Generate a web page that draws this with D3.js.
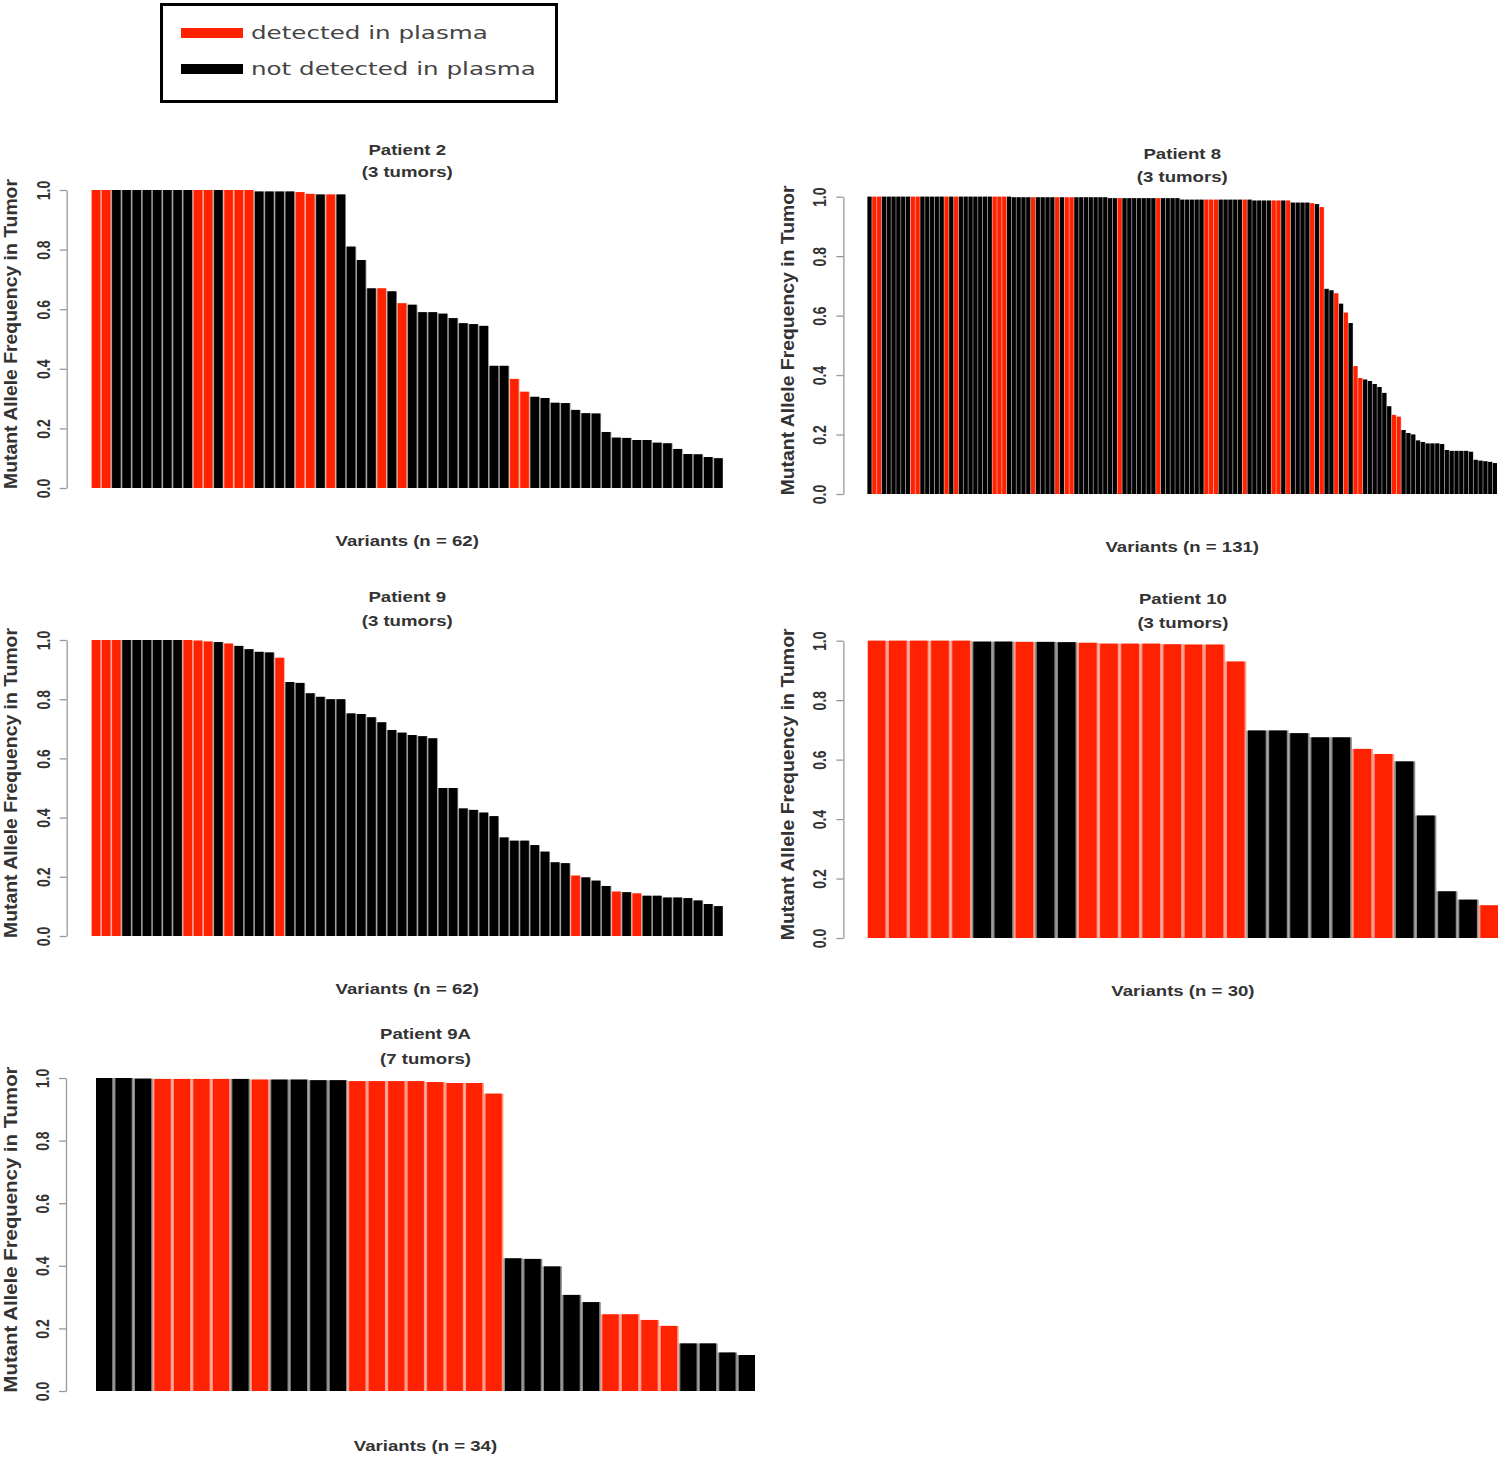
<!DOCTYPE html>
<html lang="en">
<head>
    <meta charset="UTF-8">
    <title>Mutant allele frequency in tumor by plasma detection</title>
    <script src="https://d3js.org/d3.v7.min.js"></script>
    <style>
        body {
            margin: 0;
            background: #fff;
        }
        svg {
            display: block;
        }
        .lbl {
            font-family: 'Liberation Sans', Arial, sans-serif;
            font-weight: bold;
            fill: #333;
        }
        .legend-text {
            font-family: 'DejaVu Sans', Verdana, sans-serif;
            font-size: 18.5px;
            fill: #444;
        }
    </style>
</head>
<body>
    <svg id="chart" width="1500" height="1461"></svg>

    <script>
        // mutant allele frequency per variant, sorted, and the variants (1-based) detected in plasma
        const p2Freq = [1, 1, 1, 1, 1, 1, 1, 1, 1, 1, 1, 1, 1, 1, 1, 1, 0.995, 0.995, 0.995, 0.995,
            0.993, 0.987, 0.985, 0.985, 0.985, 0.81, 0.765, 0.67, 0.67, 0.66, 0.62, 0.615, 0.59, 0.59,
            0.585, 0.57, 0.553, 0.55, 0.544, 0.41, 0.41, 0.366, 0.323, 0.306, 0.302, 0.286, 0.285, 0.262,
            0.251, 0.25, 0.188, 0.169, 0.168, 0.161, 0.161, 0.152, 0.15, 0.131, 0.114, 0.113, 0.104, 0.1];
        const p2Detected = [1, 2, 11, 12, 14, 15, 16, 21, 22, 24, 29, 31, 42, 43];

        const p8Freq = [1, 1, 1, 1, 1, 1, 1, 1, 1, 1,
            1, 1, 1, 1, 1, 1, 1, 1, 1, 1,
            1, 1, 1, 1, 1, 1, 1, 1, 1, 1,
            0.998, 0.998, 0.998, 0.998, 0.998, 0.998, 0.998, 0.998, 0.998, 0.998,
            0.998, 0.998, 0.998, 0.998, 0.998, 0.998, 0.998, 0.998, 0.998, 0.998,
            0.995, 0.995, 0.995, 0.995, 0.995, 0.995, 0.995, 0.995, 0.995, 0.995,
            0.995, 0.995, 0.995, 0.995, 0.995, 0.99, 0.99, 0.99, 0.99, 0.99,
            0.99, 0.99, 0.99, 0.99, 0.99, 0.99, 0.99, 0.99, 0.99, 0.99,
            0.987, 0.987, 0.987, 0.987, 0.987, 0.987, 0.987, 0.987, 0.98, 0.98,
            0.98, 0.98, 0.978, 0.975, 0.965, 0.69, 0.685, 0.675, 0.64, 0.61,
            0.575, 0.43, 0.39, 0.385, 0.38, 0.37, 0.36, 0.34, 0.295, 0.266,
            0.26, 0.215, 0.205, 0.2, 0.18, 0.175, 0.17, 0.17, 0.17, 0.168,
            0.148, 0.145, 0.145, 0.145, 0.145, 0.142, 0.115, 0.112, 0.11, 0.108,
            0.104];
        const p8Detected = [2, 3, 10, 11, 17, 19, 27, 28, 29, 35, 40, 42, 43, 53, 61, 71, 72, 73,
            79, 85, 86, 88, 93, 95, 98, 100, 102, 103, 110, 111];

        const p9Freq = [1, 1, 1, 1, 1, 1, 1, 1, 1, 1, 0.998, 0.995, 0.993, 0.988, 0.98, 0.969, 0.96,
            0.958, 0.94, 0.858, 0.855, 0.82, 0.808, 0.8, 0.8, 0.752, 0.75, 0.739, 0.722, 0.696, 0.687,
            0.679, 0.675, 0.668, 0.5, 0.5, 0.431, 0.426, 0.417, 0.405, 0.333, 0.322, 0.322, 0.307, 0.285,
            0.249, 0.246, 0.204, 0.198, 0.187, 0.169, 0.15, 0.148, 0.144, 0.136, 0.136, 0.13, 0.13,
            0.128, 0.12, 0.108, 0.101];
        const p9Detected = [1, 2, 3, 10, 11, 12, 14, 19, 48, 52, 54];

        const p10Freq = [1, 1, 1, 1, 1, 0.997, 0.997, 0.996, 0.996, 0.995, 0.993, 0.99, 0.99, 0.99,
            0.988, 0.987, 0.987, 0.93, 0.698, 0.698, 0.689, 0.675, 0.675, 0.636, 0.619, 0.594, 0.412,
            0.157, 0.129, 0.11];
        const p10Detected = [1, 2, 3, 4, 5, 8, 11, 12, 13, 14, 15, 16, 17, 18, 24, 25, 30];

        const p9aFreq = [1, 1, 0.998, 0.997, 0.997, 0.997, 0.997, 0.997, 0.995, 0.995, 0.995, 0.993,
            0.993, 0.99, 0.99, 0.99, 0.99, 0.987, 0.984, 0.984, 0.95, 0.424, 0.422, 0.398, 0.307, 0.284,
            0.245, 0.245, 0.227, 0.208, 0.152, 0.152, 0.123, 0.115];
        const p9aDetected = [4, 5, 6, 7, 9, 14, 15, 16, 17, 18, 19, 20, 21, 27, 28, 29, 30];

        const yTicks = [0, 0.2, 0.4, 0.6, 0.8, 1.0];
        const legendLabels = ["detected in plasma", "not detected in plasma"];
        const RED = "#ff2200";
        const BLACK = "#000";
        const SX = 1.33; // the original figure is stretched sideways

        const svg = d3.select("#chart");

        function hText(g, x, y, str, size) {
            g.append("text")
                .attr("class", "lbl")
                .attr("text-anchor", "middle")
                .style("font-size", size + "px")
                .attr("transform", `translate(${x},${y}) scale(${SX},1)`)
                .text(str);
        }

        function drawPanel(cfg, freq, detected, title, sub) {
            const g = svg.append("g");
            const n = freq.length;
            const x = d3.scaleBand()
                .domain(d3.range(1, n + 1))
                .range([cfg.x0, cfg.x1])
                .paddingInner(0.2 / 1.2)
                .paddingOuter(0);
            const y = d3.scaleLinear().domain([0, 1]).range([cfg.yBot, cfg.yTop]);
            const red = new Set(detected);
            const colour = (d, i) => red.has(i + 1) ? RED : BLACK;
            const gap = x.step() - x.bandwidth();

            // faint fill in the gaps, the source image is soft so gaps read grey
            g.append("g").attr("opacity", 0.45)
                .selectAll("rect")
                .data(freq)
                .enter().append("rect")
                .attr("x", (d, i) => x(i + 1) - (i > 0 ? gap / 2 : 0))
                .attr("width", (d, i) => x.bandwidth() + (i > 0 ? gap / 2 : 0) + (i < n - 1 ? gap / 2 : 0))
                .attr("y", d => y(d))
                .attr("height", d => y(0) - y(d))
                .attr("fill", colour);

            g.append("g")
                .selectAll("rect")
                .data(freq)
                .enter().append("rect")
                .attr("x", (d, i) => x(i + 1))
                .attr("width", x.bandwidth())
                .attr("y", d => y(d))
                .attr("height", d => y(0) - y(d))
                .attr("fill", colour);

            const ax = g.append("g")
                .attr("transform", `translate(${cfg.axisX},0)`)
                .call(d3.axisLeft(y).tickValues(yTicks).tickFormat(d3.format(".1f"))
                    .tickSize(7).tickSizeOuter(0));
            ax.attr("font-family", null).attr("font-size", null);
            ax.select(".domain").attr("stroke", "#999").attr("stroke-width", 1.3);
            ax.selectAll(".tick line").attr("stroke", "#999").attr("stroke-width", 1.3);
            ax.selectAll(".tick text")
                .attr("class", "lbl")
                .attr("x", 0).attr("y", 0).attr("dy", null)
                .attr("text-anchor", "middle")
                .style("font-size", "14px")
                .attr("transform", `translate(-17,0) scale(${SX},1) rotate(-90)`);

            g.append("text")
                .attr("class", "lbl")
                .attr("text-anchor", "middle")
                .style("font-size", "14.5px")
                .attr("textLength", cfg.ylabLen)
                .attr("lengthAdjust", "spacingAndGlyphs")
                .attr("transform", `translate(${cfg.ylabX},${(cfg.yTop + cfg.yBot) / 2 - 5}) scale(${SX},1) rotate(-90)`)
                .text("Mutant Allele Frequency in Tumor");

            const cx = (cfg.x0 + cfg.x1) / 2;
            hText(g, cx, cfg.t1, title, 14);
            hText(g, cx, cfg.t2, sub, 14);
            hText(g, cx, cfg.xlab, `Variants (n = ${n})`, 14);
        }

        drawPanel({ axisX: 66.7, x0: 91.7, x1: 722.7, yTop: 190, yBot: 488, t1: 155, t2: 177, xlab: 546, ylabX: 17, ylabLen: 310 },
            p2Freq, p2Detected, "Patient 2", "(3 tumors)");
        drawPanel({ axisX: 843.4, x0: 867.5, x1: 1497, yTop: 196.7, yBot: 494, t1: 159, t2: 182, xlab: 552, ylabX: 794, ylabLen: 310 },
            p8Freq, p8Detected, "Patient 8", "(3 tumors)");
        drawPanel({ axisX: 66.7, x0: 91.7, x1: 722.7, yTop: 640, yBot: 936, t1: 602, t2: 626, xlab: 994, ylabX: 17, ylabLen: 310 },
            p9Freq, p9Detected, "Patient 9", "(3 tumors)");
        drawPanel({ axisX: 843.4, x0: 867.8, x1: 1498, yTop: 640.7, yBot: 938, t1: 604, t2: 628, xlab: 996, ylabX: 794, ylabLen: 312 },
            p10Freq, p10Detected, "Patient 10", "(3 tumors)");
        drawPanel({ axisX: 66, x0: 96, x1: 755, yTop: 1078, yBot: 1391, t1: 1039, t2: 1064, xlab: 1451, ylabX: 17, ylabLen: 326 },
            p9aFreq, p9aDetected, "Patient 9A", "(7 tumors)");

        // legend
        const lg = svg.append("g");
        lg.append("rect")
            .attr("x", 161.5).attr("y", 4.5)
            .attr("width", 395).attr("height", 97)
            .attr("fill", "#fff").attr("stroke", "#000").attr("stroke-width", 3);
        legendLabels.forEach((lab, i) => {
            const yy = 33 + i * 36;
            lg.append("line")
                .attr("x1", 181).attr("x2", 243)
                .attr("y1", yy).attr("y2", yy)
                .attr("stroke", i === 0 ? RED : BLACK)
                .attr("stroke-width", 10);
            lg.append("text")
                .attr("class", "legend-text")
                .attr("transform", `translate(251,${yy + 6}) scale(${SX},1)`)
                .text(lab);
        });
    </script>
</body>
</html>
